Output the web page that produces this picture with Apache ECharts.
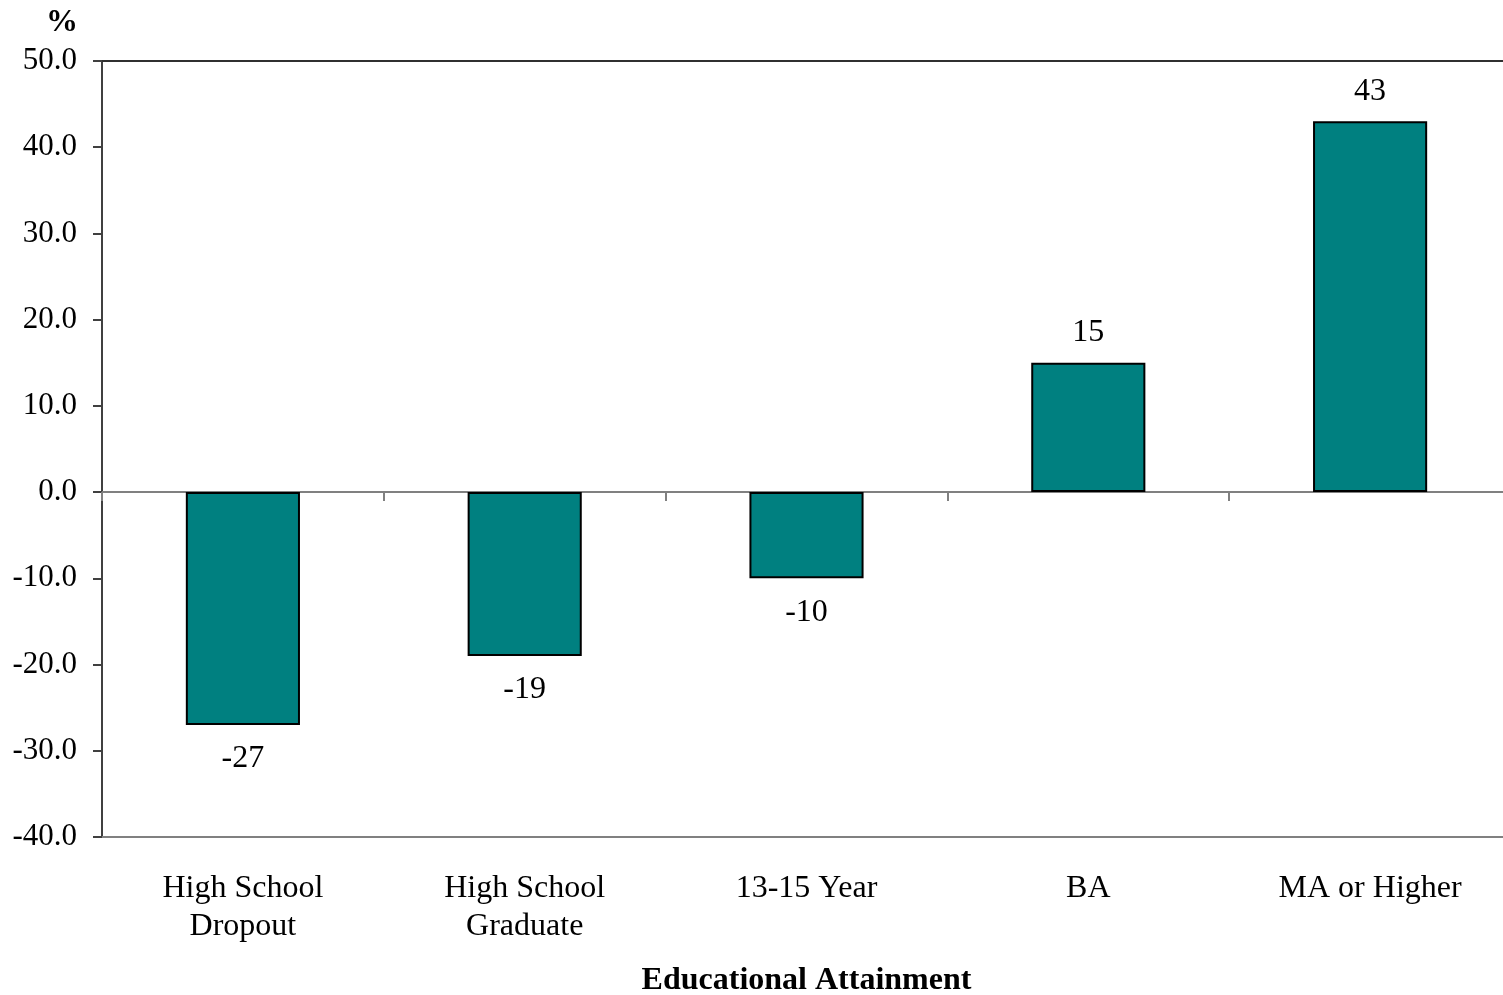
<!DOCTYPE html>
<html>
<head>
<meta charset="utf-8">
<script src="https://cdn.jsdelivr.net/npm/echarts@6/dist/echarts.min.js"></script>
<style>html,body{margin:0;padding:0;background:#fff;overflow:hidden;}#chart{width:1503px;height:995px;}</style>
</head>
<body>
<div id="chart"></div>
<script>
const categories = ['High School\nDropout', 'High School\nGraduate', '13-15 Year', 'BA', 'MA or Higher'];
const values = [-27, -19, -10, 15, 43];
const yTicks = { min: -40, max: 50, interval: 10 };
const xTitle = 'Educational Attainment';
const yUnit = '%';

const FONT = '"Liberation Serif", "Times New Roman", serif';
const FS = 32;

const chart = echarts.init(document.getElementById('chart'), null, { renderer: 'canvas' });

const barData = values.map(v => ({
  value: v,
  label: v >= 0 ? { position: 'top', distance: 14 } : { position: 'bottom', distance: 18 }
}));

chart.setOption({
  animation: false,
  backgroundColor: '#ffffff',
  title: {
    text: yUnit,
    left: 41,
    top: 2,
    textStyle: { fontFamily: FONT, fontSize: FS, fontWeight: 'bold', color: '#000' }
  },
  grid: { left: 102, top: 61, bottom: 158, width: 1409, containLabel: false, outerBoundsMode: 'none' },
  xAxis: [
    {
      type: 'category',
      data: categories,
      position: 'bottom',
      axisLine: { onZero: true, lineStyle: { color: '#808080', width: 2 } },
      axisTick: { show: true, length: 9, inside: false, lineStyle: { color: '#808080', width: 2 } },
      axisLabel: { show: false },
      splitLine: { show: false }
    },
    {
      type: 'category',
      data: categories,
      position: 'bottom',
      axisLine: { onZero: false, lineStyle: { color: '#808080', width: 2 } },
      axisTick: { show: false },
      axisLabel: {
        show: true, margin: 33, interval: 0,
        fontFamily: FONT, fontSize: FS, color: '#000', lineHeight: 38
      },
      name: xTitle,
      nameLocation: 'middle',
      nameGap: 128,
      nameTextStyle: { fontFamily: FONT, fontSize: FS, fontWeight: 'bold', color: '#000' },
      splitLine: { show: false }
    },
    {
      type: 'category',
      data: categories,
      position: 'top',
      axisLine: { onZero: false, lineStyle: { color: '#303030', width: 2 } },
      axisTick: { show: false },
      axisLabel: { show: false },
      splitLine: { show: false }
    }
  ],
  yAxis: {
    type: 'value',
    min: yTicks.min,
    max: yTicks.max,
    interval: yTicks.interval,
    axisLine: { show: true, onZero: false, lineStyle: { color: '#404040', width: 2 } },
    axisTick: { show: true, length: 9, inside: false, lineStyle: { color: '#404040', width: 2 } },
    axisLabel: {
      margin: 25, fontFamily: FONT, fontSize: 31, color: '#000',
      formatter: v => v.toFixed(1)
    },
    splitLine: { show: false }
  },
  series: [{
    type: 'bar',
    xAxisIndex: 0,
    data: barData,
    barWidth: '40.5%',
    itemStyle: { color: '#008080', borderColor: '#000', borderWidth: 2 },
    label: {
      show: true,
      fontFamily: FONT, fontSize: FS, color: '#000',
      formatter: p => String(p.value)
    }
  }]
});
</script>
</body>
</html>
